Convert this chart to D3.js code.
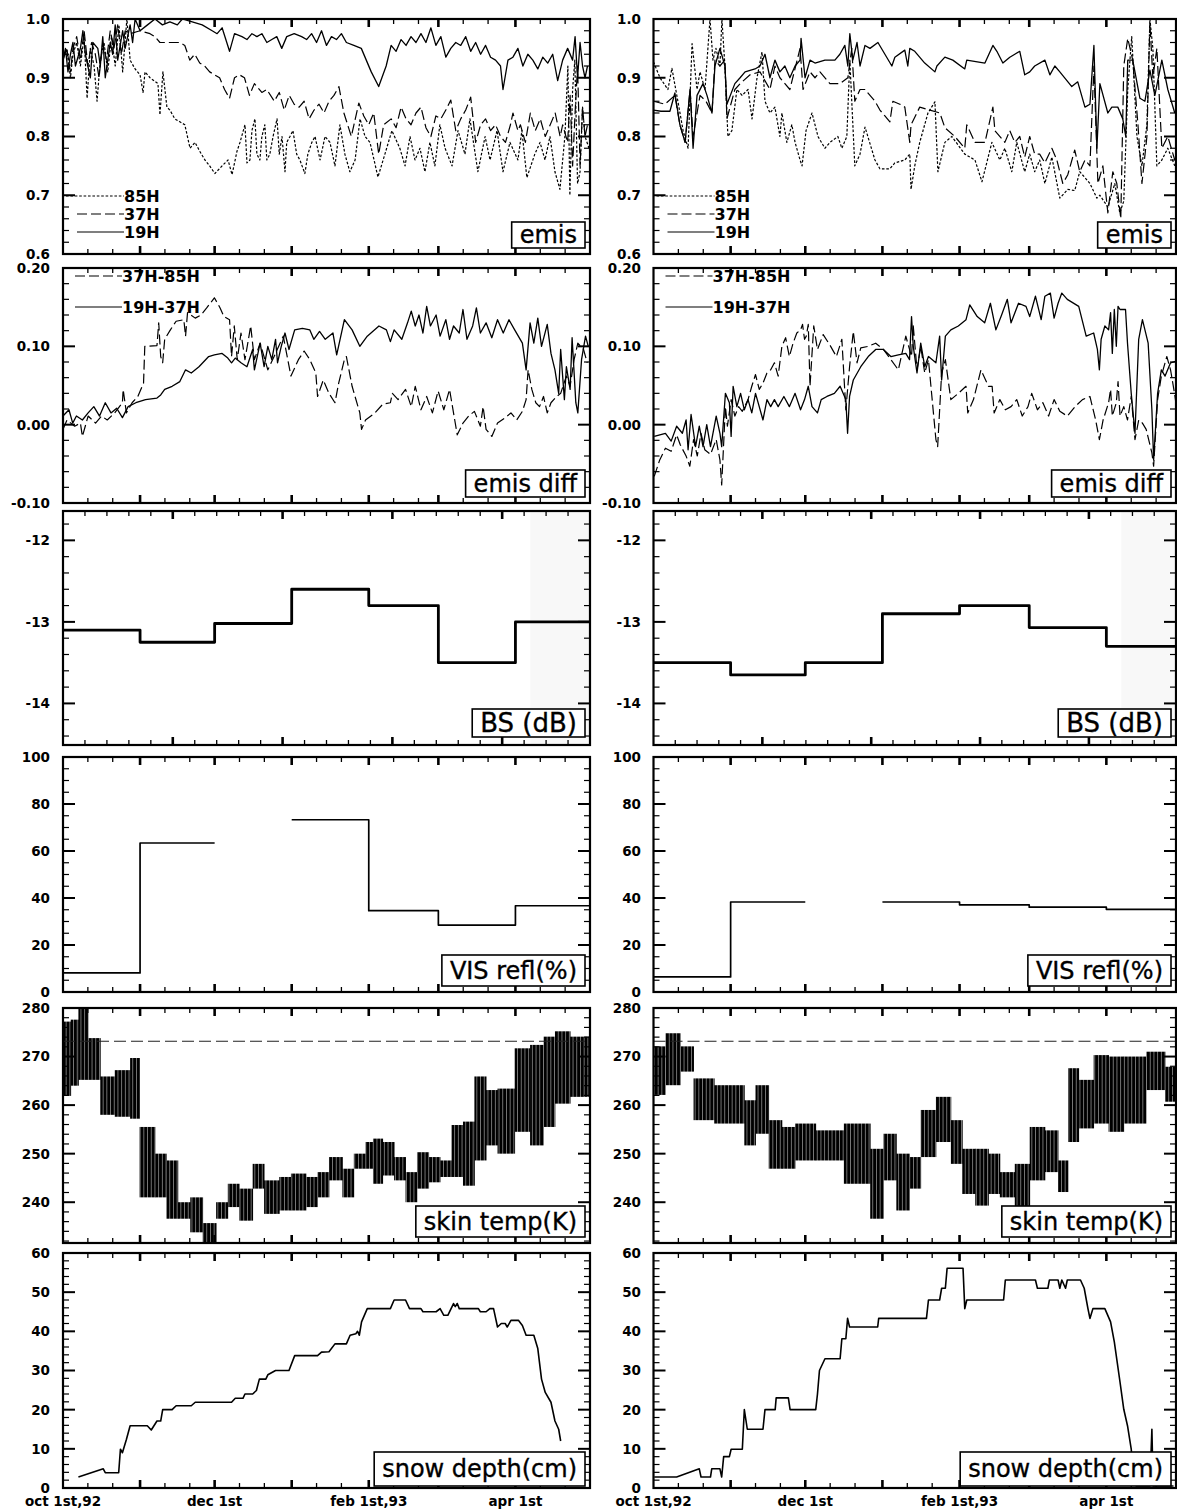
<!DOCTYPE html>
<html><head><meta charset="utf-8">
<script src="https://cdnjs.cloudflare.com/ajax/libs/d3/7.8.5/d3.min.js"></script>
<style>html,body{margin:0;padding:0;background:#fff}svg{display:block}</style>
</head><body>
<svg id="chart" width="1177" height="1510"></svg>
<script>
// ================= DATA (day offsets from Oct 1 1992) =================
const monthStarts = [0,31,61,92,123,151,182,212];
const xTickLabels = ["oct 1st,92","dec 1st","feb 1st,93","apr 1st"];
const xTickLabelDays = [0,61,123,182];

const emisTicks = [0.6,0.7,0.8,0.9,1.0];
const emisTickLabels = ["0.6","0.7","0.8","0.9","1.0"];
const diffTicks = [-0.1,0,0.1,0.2];
const diffTickLabels = ["-0.10","0.00","0.10","0.20"];
const bsTicks = [-14,-13,-12];
const bsTickLabels = ["-14","-13","-12"];
const visTicks = [0,20,40,60,80,100];
const visTickLabels = ["0","20","40","60","80","100"];
const skinTicks = [240,250,260,270,280];
const skinTickLabels = ["240","250","260","270","280"];
const snowTicks = [0,10,20,30,40,50,60];
const snowTickLabels = ["0","10","20","30","40","50","60"];

const emisLegend = ["85H","37H","19H"];
const diffLegend = ["37H-85H","19H-37H"];
const panelLabels = ["emis","emis diff","BS (dB)","VIS refl(%)","skin temp(K)","snow depth(cm)"];

// ---- emissivity, left site ----
const emisL19 = [[0,0.93],[1,0.95],[2,0.91],[3,0.94],[4,0.96],[5,0.92],[7,0.95],[8,0.98],[9,0.94],[11,0.90],[12,0.96],[14,0.95],[15,0.92],[16,0.97],[17,0.90],[19,0.96],[20,0.94],[21,0.99],[22,0.93],[24,0.98],[25,0.95],[27,0.99],[28,0.96],[29,1.0],[31,0.98],[34,0.99],[37,1.0],[40,0.99],[43,0.995],[46,0.99],[48,1.0],[52,0.995],[56,0.99],[60,0.98],[62,0.975],[64,0.985],[67,0.945],[69,0.975],[72,0.97],[74,0.965],[76,0.975],[78,0.97],[80,0.975],[82,0.96],[84,0.965],[86,0.97],[88,0.95],[90,0.97],[93,0.975],[96,0.97],[98,0.965],[100,0.975],[102,0.96],[104,0.98],[106,0.955],[108,0.97],[110,0.965],[112,0.975],[114,0.96],[117,0.955],[120,0.95],[124,0.91],[127,0.885],[130,0.92],[132,0.955],[134,0.945],[136,0.965],[138,0.955],[140,0.97],[142,0.96],[144,0.975],[146,0.96],[148,0.985],[150,0.955],[152,0.97],[154,0.935],[156,0.95],[158,0.96],[160,0.955],[162,0.97],[164,0.945],[166,0.96],[168,0.94],[170,0.955],[172,0.935],[174,0.93],[176,0.92],[177,0.88],[179,0.93],[181,0.935],[183,0.95],[185,0.92],[187,0.94],[189,0.93],[191,0.915],[193,0.935],[195,0.925],[197,0.94],[199,0.895],[201,0.93],[203,0.95],[205,0.93],[206,0.97],[207,0.90],[208,0.96],[209,0.92],[210,0.90],[211,0.92]];
const emisL37 = [[0,0.93],[1.5,0.95],[3,0.91],[4,0.95],[5.5,0.97],[7,0.93],[8.5,0.98],[10,0.92],[11.5,0.96],[13,0.94],[14.5,0.90],[16,0.96],[17.5,0.93],[19,0.98],[20.5,0.95],[22,0.99],[23.5,0.94],[25,0.98],[27,0.975],[31,0.98],[35,0.975],[37,0.97],[39,0.96],[47,0.96],[49,0.955],[51,0.93],[53,0.94],[55,0.925],[57,0.92],[59,0.91],[61,0.905],[63,0.90],[65,0.88],[67,0.865],[69,0.90],[71,0.905],[73,0.90],[75,0.87],[77,0.89],[80,0.875],[82,0.88],[85,0.86],[87,0.875],[89,0.845],[91,0.87],[93,0.855],[95,0.85],[97,0.86],[99,0.83],[101,0.845],[103,0.855],[105,0.84],[107,0.86],[109,0.87],[111,0.885],[113,0.84],[116,0.80],[119,0.857],[121,0.835],[123,0.82],[125,0.84],[127,0.77],[129,0.82],[132,0.83],[134,0.815],[136,0.85],[138,0.83],[140,0.82],[142,0.84],[144,0.85],[146,0.815],[148,0.80],[150,0.835],[152,0.83],[154,0.845],[156,0.862],[158,0.81],[160,0.83],[162,0.845],[164,0.867],[166,0.79],[168,0.82],[170,0.83],[172,0.81],[174,0.82],[176,0.80],[178,0.79],[180,0.82],[181,0.84],[183,0.81],[184,0.82],[186,0.79],[188,0.84],[190,0.81],[192,0.83],[194,0.80],[195,0.81],[197,0.83],[198,0.84],[200,0.80],[201,0.82],[203,0.79],[204,0.87],[205,0.75],[206,0.84],[207,0.92],[208,0.75],[209,0.85],[210,0.80],[211,0.82]];
const emisL85 = [[0,0.93],[1.5,0.95],[3,0.90],[4,0.94],[5.5,0.96],[7,0.92],[8.5,0.97],[9.7,0.865],[11,0.95],[12.5,0.92],[13.7,0.86],[15,0.93],[16.5,0.96],[18,0.91],[19.5,0.97],[21,0.92],[22.5,0.99],[24,0.91],[25.7,1.0],[27,0.93],[29,0.915],[31,0.905],[32.2,0.875],[33,0.91],[35,0.90],[38.2,0.89],[39,0.837],[40.2,0.91],[41.8,0.85],[43,0.845],[45,0.83],[47,0.825],[49,0.82],[51.1,0.78],[53.1,0.79],[55,0.775],[57.1,0.76],[59,0.75],[61.1,0.737],[64,0.75],[66.4,0.76],[68,0.735],[70,0.775],[71.2,0.79],[73.2,0.82],[74,0.755],[75.2,0.76],[76,0.81],[77.2,0.83],[78,0.77],[79.2,0.76],[80,0.80],[81.2,0.82],[82,0.76],[83.2,0.77],[84.5,0.80],[86.1,0.83],[87,0.77],[88.1,0.80],[89.3,0.74],[90,0.79],[91.3,0.80],[92.5,0.81],[94,0.77],[95.3,0.76],[97.3,0.737],[98.5,0.77],[100.1,0.79],[101.4,0.80],[103.4,0.76],[105.4,0.80],[107.4,0.79],[109.4,0.75],[111.4,0.82],[113.4,0.77],[115.4,0.74],[117.5,0.76],[119.5,0.83],[121.5,0.80],[123.5,0.79],[126.7,0.731],[129.5,0.77],[132.3,0.81],[135.5,0.78],[137.6,0.75],[139.6,0.80],[141.6,0.76],[143.6,0.78],[145.6,0.74],[147.6,0.79],[149.6,0.75],[151.6,0.82],[153.7,0.78],[156.5,0.75],[158.9,0.81],[161.7,0.77],[163.7,0.83],[166.9,0.74],[169.8,0.80],[171.8,0.76],[174.6,0.81],[177,0.74],[179.8,0.79],[183,0.76],[184.6,0.81],[186.6,0.73],[189.8,0.77],[191.9,0.79],[193.9,0.76],[195.9,0.80],[197.9,0.74],[199.9,0.71],[201.9,0.80],[203.1,0.92],[203.9,0.70],[205,0.88],[205.9,0.93],[207,0.72],[208,0.74],[209,0.85],[210,0.80],[211.6,0.78]];

// ---- emissivity, right site ----
const emisR19 = [[0,0.845],[3,0.843],[6.6,0.843],[8.6,0.874],[10.6,0.82],[12.7,0.79],[14.7,0.88],[15.9,0.78],[17.5,0.87],[19.9,0.89],[21.5,0.87],[23.5,0.84],[24.7,0.92],[26.7,0.95],[28.7,0.92],[29.5,0.855],[32.7,0.89],[34.8,0.90],[36.8,0.91],[40.8,0.915],[42.8,0.92],[44.8,0.94],[46.8,0.90],[48.8,0.93],[50.8,0.91],[52.8,0.92],[54.8,0.90],[56.9,0.92],[58.9,0.93],[59.3,0.967],[60.9,0.90],[62.9,0.93],[64.9,0.925],[68.9,0.93],[72.9,0.93],[74.9,0.94],[76.9,0.955],[78.1,0.92],[78.9,0.975],[80.1,0.93],[81.8,0.96],[83,0.92],[85,0.955],[87,0.95],[90.2,0.96],[93,0.94],[95.8,0.92],[97,0.935],[101,0.947],[102.2,0.92],[103,0.95],[105,0.945],[109,0.925],[113.1,0.91],[113.9,0.92],[117.1,0.935],[120.3,0.93],[125.1,0.915],[125.9,0.93],[133.2,0.925],[136.4,0.955],[138,0.945],[140.4,0.925],[143.2,0.935],[145.2,0.94],[147.2,0.945],[149.2,0.905],[151.2,0.91],[153.2,0.92],[157.3,0.93],[159.3,0.905],[161.3,0.92],[163.3,0.91],[168.1,0.885],[170.5,0.893],[173.4,0.85],[175.4,0.855],[177,0.955],[178.2,0.78],[179.4,0.89],[182.6,0.84],[184.2,0.85],[186.6,0.85],[188.6,0.83],[189.8,0.80],[190.6,0.93],[192.6,0.93],[195.5,0.865],[197.5,0.86],[199.5,0.913],[201.5,0.87],[204.3,0.93],[206.7,0.88],[209.5,0.84]];
const emisR37 = [[0,0.86],[4.6,0.855],[8.6,0.87],[10.6,0.82],[12.7,0.79],[14.7,0.88],[15.9,0.80],[18.7,0.87],[21.1,0.86],[23.5,0.84],[24.7,0.93],[26.7,0.92],[28.7,0.93],[29.5,0.83],[32.7,0.88],[34.8,0.89],[38.8,0.905],[42.8,0.91],[46.8,0.88],[48.8,0.92],[50.8,0.90],[54.8,0.88],[58.9,0.95],[60.1,0.88],[62.9,0.91],[64.9,0.90],[66.9,0.91],[70.9,0.89],[74.9,0.89],[78.1,0.90],[79.7,0.95],[80.9,0.86],[83,0.88],[85,0.88],[89,0.86],[91,0.845],[93,0.835],[95,0.825],[96.2,0.86],[99,0.855],[101,0.85],[103,0.79],[103.5,0.82],[107,0.85],[111.1,0.845],[115.1,0.84],[117.1,0.815],[121.1,0.80],[125.1,0.78],[125.9,0.82],[129.2,0.79],[133.2,0.79],[136.4,0.85],[137.2,0.81],[141.2,0.79],[143.2,0.81],[145.2,0.79],[147.2,0.80],[149.2,0.765],[151.2,0.80],[153.2,0.77],[155.2,0.77],[157.3,0.755],[160.1,0.78],[162.1,0.76],[164.5,0.72],[166.5,0.735],[169.3,0.777],[171.3,0.74],[173.4,0.76],[175.4,0.75],[177,0.92],[178.6,0.72],[180.6,0.75],[182.6,0.67],[184.6,0.74],[186.2,0.72],[187.8,0.66],[189,0.92],[190.6,0.967],[192.6,0.93],[194.7,0.82],[196.3,0.72],[198.3,0.80],[199.5,0.993],[200.7,0.90],[202.3,0.95],[204.3,0.78],[206.7,0.80],[209.5,0.76]];
const emisR85 = [[0,0.927],[2.6,0.90],[5.8,0.88],[7.4,0.916],[9.8,0.86],[11.9,0.81],[13.9,0.78],[15.5,0.958],[17.5,0.88],[18.7,0.91],[20.7,0.88],[22.7,1.0],[23.9,0.93],[25.1,0.95],[26.7,0.92],[27.5,1.0],[28.7,0.92],[29.9,0.80],[31.5,0.81],[33.5,0.88],[35.6,0.87],[38,0.88],[39.6,0.83],[41.6,0.90],[43.6,0.944],[44.8,0.86],[46.8,0.84],[48.8,0.85],[50.8,0.80],[51.6,0.84],[53.6,0.79],[55.6,0.82],[56.9,0.79],[58.9,0.76],[59.7,0.75],[61.3,0.81],[63.7,0.84],[66.1,0.80],[68.9,0.78],[70.9,0.79],[74.1,0.80],[75.7,0.78],[77.7,0.80],[78.9,0.93],[80.9,0.75],[83,0.77],[85,0.816],[89,0.76],[91,0.745],[95,0.745],[97,0.755],[101,0.76],[103,0.77],[103.5,0.71],[105,0.75],[107,0.79],[110.3,0.84],[113.1,0.859],[114.3,0.74],[117.1,0.79],[119.9,0.80],[125.1,0.77],[129.2,0.76],[132,0.723],[136,0.79],[139.2,0.76],[141.2,0.78],[144,0.74],[146,0.79],[149.2,0.74],[151.2,0.77],[153.2,0.74],[155.2,0.76],[157.3,0.72],[160.1,0.765],[163.3,0.695],[166.5,0.71],[169.3,0.708],[171.3,0.74],[173.4,0.73],[175.4,0.72],[178.2,0.695],[179.4,0.70],[182.6,0.68],[185.4,0.72],[187.4,0.67],[189,0.69],[190.6,0.88],[192.2,0.97],[194.3,0.80],[196.3,0.75],[198.3,0.82],[199.5,1.0],[200.7,0.95],[202.3,0.75],[204.3,0.76],[206.7,0.78],[209.5,0.75]];

// ---- emissivity differences ----
const diffL3785 = [[0,-0.006],[1.6,0.006],[4.7,-0.002],[7,0.002],[7.8,-0.015],[10.1,0.011],[13.1,0.002],[15.5,0.011],[17.8,0.006],[20.8,0.015],[23.9,0.028],[24.2,0.045],[25.5,0.015],[27.8,0.028],[30.1,0.036],[32.4,0.053],[32.9,0.100],[37.8,0.101],[38.5,0.130],[39.3,0.087],[40.1,0.079],[40.9,0.109],[43.2,0.121],[45.5,0.132],[48.6,0.134],[49.3,0.113],[50.1,0.143],[53.2,0.136],[55.5,0.140],[57.8,0.149],[60.9,0.162],[63.2,0.149],[64.7,0.138],[67,0.134],[67.8,0.087],[68.9,0.126],[70.1,0.083],[71.6,0.117],[73.2,0.083],[75.5,0.126],[77,0.083],[79.3,0.104],[82.4,0.070],[85.5,0.091],[88.6,0.113],[91.7,0.062],[94.7,0.083],[97,0.094],[99.3,0.083],[101.7,0.066],[102.4,0.036],[104.7,0.057],[107,0.040],[109.4,0.028],[110.9,0.053],[113.2,0.083],[114,0.087],[116.3,0.049],[119.4,0.015],[120.1,-0.006],[121.7,0.006],[125.5,0.015],[128.6,0.026],[131.7,0.028],[132.5,0.040],[134.8,0.032],[137.8,0.045],[140.1,0.023],[141.7,0.049],[144,0.019],[146.3,0.036],[148.6,0.015],[150.9,0.043],[153.2,0.019],[155.5,0.045],[157.1,0.015],[158.6,-0.013],[160.9,0.002],[163.2,0.011],[165.5,0.017],[167.9,-0.002],[169,0.023],[170.2,-0.006],[172.5,-0.015],[174.8,0.002],[177.9,0.009],[180.2,0.015],[182.5,0.006],[184.8,0.017],[186.3,0.032],[187.1,0.070],[188.6,0.045],[190.2,0.028],[191.7,0.023],[193.3,0.036],[194.8,0.015],[196.3,0.028],[198.6,0.036],[200.2,0.040],[202.5,0.062],[204,0.049],[205.6,0.083],[207.1,0.104],[209.4,0.096],[210.9,0.079]];
const diffL1937 = [[0,0.011],[2.4,0.019],[3.9,0.002],[5.4,0.011],[7.8,0.006],[10.1,0.015],[12.4,0.023],[14.7,0.011],[17,0.028],[19.3,0.015],[21.6,0.021],[23.9,0.009],[26.2,0.023],[29.3,0.028],[33.2,0.032],[37.8,0.034],[39.3,0.038],[40.9,0.045],[43.9,0.049],[47,0.055],[49.3,0.070],[51.6,0.066],[54.7,0.074],[58.6,0.087],[60.9,0.089],[64,0.091],[66.3,0.085],[67.8,0.079],[69.3,0.085],[71.6,0.079],[74,0.074],[76.3,0.096],[77,0.070],[79.3,0.104],[80.9,0.074],[82.4,0.100],[84,0.083],[85.5,0.109],[86.3,0.079],[87.8,0.100],[89.3,0.117],[90.9,0.096],[93.2,0.121],[96.3,0.123],[99.3,0.121],[100.9,0.109],[103.2,0.119],[105.5,0.109],[108.6,0.117],[110.1,0.089],[113.2,0.134],[116.3,0.121],[119.4,0.100],[122.4,0.113],[127.1,0.126],[130.1,0.121],[131.7,0.106],[133.2,0.121],[136.3,0.109],[138.6,0.130],[140.1,0.145],[141.7,0.126],[143.2,0.140],[144.8,0.117],[146.3,0.151],[147.8,0.126],[150.1,0.140],[151.7,0.113],[154,0.134],[155.5,0.109],[157.1,0.126],[159.4,0.117],[160.9,0.147],[162.5,0.109],[164.8,0.126],[166.3,0.149],[167.9,0.117],[170.2,0.130],[172.5,0.111],[174.8,0.134],[177.1,0.117],[179.4,0.134],[181.7,0.121],[184.8,0.104],[186.3,0.070],[187.9,0.130],[189.4,0.104],[191,0.136],[192.5,0.100],[194.8,0.128],[196.3,0.091],[197.9,0.070],[199.4,0.040],[200.2,0.096],[201.7,0.032],[202.5,0.074],[204,0.045],[204.8,0.111],[206.3,0.028],[207.1,0.015],[208.6,0.083],[210.2,0.113],[211.3,0.100]];
const diffR3785 = [[0.3,-0.066],[2.5,-0.045],[4.8,-0.030],[7.1,-0.034],[9.3,-0.013],[10.8,-0.026],[13.1,-0.040],[14.6,-0.053],[16.1,-0.019],[17.6,-0.040],[19.1,-0.011],[20.6,-0.032],[22.9,-0.038],[25.2,-0.019],[26.7,-0.045],[27.4,-0.077],[28.9,0.023],[29.7,-0.002],[31.2,0.032],[32.7,0.011],[34.2,0.023],[35.7,0.017],[38,0.032],[39.5,0.049],[41,0.064],[42.5,0.045],[44,0.053],[45.6,0.066],[47.1,0.070],[48.6,0.079],[50.1,0.062],[51.6,0.100],[53.1,0.111],[54.6,0.087],[56.1,0.104],[57.6,0.117],[59.1,0.121],[59.9,0.128],[60.7,0.109],[61.4,0.113],[62.2,0.128],[62.9,0.049],[64.4,0.126],[65.9,0.096],[68.2,0.115],[71.2,0.100],[73.5,0.087],[75.7,0.109],[77.3,0.019],[78.8,0.074],[80.3,0.119],[81.8,0.079],[83.3,0.098],[86.3,0.100],[89.3,0.104],[92.4,0.096],[95.4,0.083],[98.4,0.070],[101.4,0.113],[103.7,0.087],[104.4,0.126],[105.9,0.070],[107.4,0.100],[109,0.066],[110.5,0.083],[113.5,-0.019],[114.2,-0.028],[115.8,0.066],[117.3,0.083],[119.5,0.032],[122.5,0.040],[125.6,0.049],[126.3,0.015],[128.6,0.032],[131.6,0.070],[134.6,0.049],[136.1,0.049],[136.9,0.015],[139.2,0.032],[141.4,0.019],[143.7,0.023],[146,0.032],[148.2,0.011],[150.5,0.023],[152,0.040],[154.3,0.019],[156.5,0.028],[158.8,0.011],[161,0.032],[163.3,0.017],[166.3,0.011],[169.4,0.023],[172.4,0.032],[175.4,0.036],[177.7,0.006],[179.2,-0.019],[180.7,0.006],[182.9,0.028],[183.7,0.045],[184.4,0.011],[186,0.028],[186.7,0.055],[187.5,0.011],[189,0.023],[190.5,0.006],[192,0.036],[193.5,-0.019],[195,0.006],[196.5,0.002],[198,-0.006],[200.3,-0.036],[201,-0.053],[202.6,0.032],[204.1,0.062],[206.3,0.087],[207.8,0.070],[209.4,0.040],[210.9,0.006]];
const diffR1937 = [[0.3,-0.015],[4.8,-0.011],[7.1,-0.021],[9.3,-0.002],[11.6,-0.011],[13.1,0.006],[13.9,-0.032],[15.1,0.013],[16.9,-0.028],[18.4,-0.002],[19.9,-0.028],[21.4,0.000],[22.9,-0.028],[25.2,0.011],[26.7,-0.011],[27.4,-0.028],[28.9,0.040],[30.5,0.028],[31.2,-0.015],[32,0.049],[33.5,0.023],[35,0.040],[36.5,0.019],[38,0.032],[39.5,0.015],[41,0.040],[44,0.006],[45.6,0.032],[47.1,0.023],[48.6,0.032],[50.1,0.023],[52.4,0.036],[54.6,0.023],[56.9,0.040],[59.1,0.019],[60.7,0.032],[62.2,0.049],[63.7,0.023],[65.9,0.015],[67.4,0.032],[69.7,0.036],[72.7,0.040],[75,0.049],[77.3,0.032],[78,-0.011],[78.8,0.036],[80.3,0.057],[83.3,0.074],[86.3,0.087],[89.3,0.096],[92.4,0.096],[95.4,0.087],[98.4,0.089],[101.4,0.091],[102.9,0.083],[103.7,0.138],[104.4,0.100],[105.9,0.066],[107.4,0.104],[109,0.074],[110.5,0.087],[113.5,0.079],[115,0.113],[115.8,0.057],[117.3,0.113],[119.5,0.121],[122.5,0.126],[125.6,0.134],[127.1,0.153],[130.1,0.138],[133.1,0.130],[135.4,0.155],[137.6,0.121],[139.9,0.140],[142.2,0.160],[143.7,0.130],[146.7,0.155],[149.7,0.151],[151.2,0.138],[153.5,0.164],[155.8,0.134],[157.3,0.164],[159.5,0.168],[161,0.136],[162.6,0.155],[164.1,0.168],[166.3,0.160],[170.9,0.151],[173.9,0.113],[176.9,0.117],[178.4,0.096],[179.2,0.070],[179.9,0.109],[181.4,0.126],[182.9,0.121],[183.7,0.143],[184.4,0.091],[185.2,0.147],[186,0.100],[186.7,0.151],[187.5,0.147],[189.7,0.147],[190.5,0.104],[192,0.040],[193.5,-0.011],[195,0.109],[196.5,0.134],[198.8,0.104],[200.3,0.019],[201,-0.045],[202.6,0.040],[204.1,0.070],[205.6,0.062],[207.8,0.079],[210.1,0.081],[210.9,0.006]];

// ---- monthly backscatter (dB) and visible reflectance (%) : Oct..Apr ----
const bsLeft  = [-13.1,-13.25,-13.02,-12.6,-12.8,-13.5,-13.0];
const bsRight = [-13.5,-13.65,-13.5,-12.9,-12.8,-13.07,-13.3];
const visLeft  = [8.1,63.4,null,73.3,34.6,28.5,36.7];
const visRight = [6.4,38.3,null,38.3,37.1,36.1,35.2];
const bsShadeStart = 188;

// ---- skin temperature blocks: [dayStart, dayEnd, min K, max K] ----
const skinLeft = [[0,3.1,261.9,277.2],[3.1,6.2,264,277.6],[6.2,10.1,265.2,279.9],[10.1,15,265.2,273.8],[15,20.8,258,265.9],[20.8,27,257.6,267.2],[27,30.8,257.2,269.7],[30.8,37,241,255.5],[37,41.6,241,250],[41.6,46.2,236.6,248.6],[46.2,51.2,236.6,240],[51.2,56.2,233.8,241],[56.2,61.6,231.4,235.7],[61.6,66.3,236.6,240],[66.3,70.9,239,243.8],[70.9,76.3,236.2,242.8],[76.3,80.9,242.8,247.9],[80.9,87,237.6,244.5],[87,91.7,238.3,245.2],[91.7,97.8,238.3,245.9],[97.8,102.4,239,245.2],[102.4,107,241,246.2],[107,112.4,244.5,249.3],[112.4,117,241,246.9],[117,121.7,246.9,250],[121.7,124.7,246.9,252.4],[124.7,128.6,243.8,253.1],[128.6,133.2,245.5,252.4],[133.2,137.8,244.5,249.3],[137.8,142.4,240,246.2],[142.4,147.1,242.8,250.3],[147.1,151.7,244.1,249.3],[151.7,156.3,245.2,248.6],[156.3,160.9,245.2,255.9],[160.9,165.5,243.4,256.6],[165.5,170.2,248.6,265.9],[170.2,174.8,251.7,263.1],[174.8,181.7,250,263.4],[181.7,187.9,254.5,271.7],[187.9,193.3,251.7,272.4],[193.3,197.9,255.5,274.1],[197.9,204,260.3,275.2],[204,212,261.7,274.1]];
const skinRight = [[0,4.8,262.1,272.1],[4.8,10.8,264.1,274.8],[10.8,16.1,266.9,272.1],[16.1,24.4,256.9,265.5],[24.4,36.5,256.2,264.1],[36.5,41,251.7,261],[41,46.3,254.1,264.1],[46.3,51.6,246.9,256.9],[51.6,56.9,246.9,255.5],[56.9,65.2,248.6,256.2],[65.2,76.5,248.6,254.8],[76.5,87.1,243.8,256.2],[87.1,92.4,236.6,251],[92.4,97.6,244.5,254.1],[97.6,102.9,238.3,250],[102.9,107.4,242.8,249.3],[107.4,113.5,249.3,259],[113.5,119.5,252.4,261.7],[119.5,124.1,247.9,256.9],[124.1,129.3,241.7,251],[129.3,134.6,239.3,251],[134.6,139.2,241.7,250],[139.2,145.2,241,246.2],[145.2,151.2,239,247.9],[151.2,157.3,244.5,255.5],[157.3,162.6,246.2,254.8],[162.6,166.6,242.1,248.6],[166.6,170.9,252.4,267.6],[170.9,176.9,255.2,265.2],[176.9,182.9,256.2,270.3],[182.9,189,254.5,270],[189,198,256.2,270],[198,205.6,263.1,271],[205.6,212,260.7,267.9]];
const freezingK = 273.15;

// ---- snow depth (cm) ----
const snowLeft = [[6.2,2.8],[16.2,4.9],[17,3.9],[22.4,3.9],[23.1,9.9],[23.9,9.0],[25.5,12.4],[27,15.9],[33.9,15.9],[35.5,14.8],[37.8,17.1],[39.3,17.1],[40.1,20],[43.9,20],[45.5,21],[51.6,21],[53.2,21.9],[67.8,21.9],[69.3,22.9],[72.4,22.9],[73.2,24],[76.3,24],[77.8,24.9],[79,27.8],[81.6,27.8],[82.4,28.9],[85.5,30],[90.9,30],[93.2,33.8],[102.4,33.8],[104,34.7],[107,34.8],[109.4,36.8],[114,36.8],[115.5,39],[117.8,39.4],[118.5,40],[119.2,39],[120.1,42.4],[122.4,45.8],[131.7,45.8],[133.2,48],[137.8,48],[139.4,45.8],[144,45.8],[144.8,45],[150.1,45],[151.7,45.8],[153.2,44.1],[154.8,44.1],[157.1,47.1],[157.8,46.3],[158.6,47.1],[159.4,45.8],[167.1,45.8],[167.9,45],[170.2,45],[171.7,45.8],[173.2,45.8],[174.8,41.1],[176.3,42],[177.9,42],[178.7,41.1],[180.2,42.8],[183.2,42.8],[184.8,41.5],[186.3,39],[189.4,39],[191,35.6],[192.5,27.8],[194,24.4],[196.3,21.9],[197.9,17.1],[199.4,15],[200.2,12]];
const snowRight = [[0.3,2.8],[9.3,2.8],[18.4,4.9],[19.1,2.8],[22.9,2.8],[23.4,4.9],[26.7,4.9],[27.4,2.8],[28.2,8],[30.5,8],[31.2,9.9],[35.7,9.9],[36.5,20],[37.7,15],[44,15],[44.8,20],[48.9,20],[49.3,23],[54.2,23],[54.9,20],[65.2,20],[65.9,24],[66.7,30],[68.9,33],[75,33],[75.7,38.1],[77.3,38.1],[78,43.3],[78.8,41.1],[90.1,41.1],[90.5,43.3],[109.7,43.3],[110.5,48],[115,48],[115.8,51],[117.3,51],[118,56.1],[124.4,56.1],[125.1,45.8],[125.9,48],[140.7,48],[141.4,53.1],[153.5,53.1],[154.3,51],[158.5,51],[159.1,53.1],[162.6,53.1],[163.3,51],[164.1,53.1],[165.6,51],[166.3,53.1],[171.6,53.1],[173.1,51],[174.6,45.8],[175.4,43.3],[176.6,45.8],[181.4,45.8],[183.7,42.4],[185.2,37.3],[187.5,27],[189,20.1],[190.5,15.9],[192,9.9],[193,3],[194,0.5],[199.5,0.5],[200.3,15],[200.8,0.5],[209,0.5]];

// ================= LAYOUT =================
const svg = d3.select("#chart").style("font-family","'DejaVu Sans', sans-serif");
const defs = svg.append("defs");
const pat = defs.append("pattern").attr("id","hatch").attr("patternUnits","userSpaceOnUse").attr("width",3.7).attr("height",20);
pat.append("rect").attr("width",3.7).attr("height",20).attr("fill","#000");
pat.append("rect").attr("x",3.2).attr("width",0.45).attr("height",20).attr("fill","#fff");

const T0 = Date.UTC(1992,9,1);
const toDate = d => new Date(T0 + d*864e5);
const cols = [
  {x0:63, x1:590, xr:590, lab:50},
  {x0:653.5, x1:1181, xr:1176, lab:641}
];
const rows = [
  {y0:19,   y1:254,  dom:[0.6,1.0],       minor:0.02, ticks:emisTicks, labels:emisTickLabels, boxH:26, boxGap:6, fs:24},
  {y0:268,  y1:503,  dom:[-0.1,0.2],      minor:0.02, ticks:diffTicks, labels:diffTickLabels, boxH:27, boxGap:6, fs:24},
  {y0:511,  y1:745,  dom:[-14.51,-11.64], minor:0.2,  ticks:bsTicks,   labels:bsTickLabels,   boxH:28, boxGap:8, fs:26, uniformX:true},
  {y0:757,  y1:992,  dom:[0,100],         minor:5,    ticks:visTicks,  labels:visTickLabels,  boxH:31, boxGap:6, fs:24},
  {y0:1008, y1:1243, dom:[231.6,280],     minor:2,    ticks:skinTicks, labels:skinTickLabels, boxH:31, boxGap:6, fs:24},
  {y0:1253, y1:1488, dom:[0,60],          minor:2,    ticks:snowTicks, labels:snowTickLabels, boxH:34, boxGap:2, fs:24}
];

function stepPoints(vals) {
  const pts = [];
  vals.forEach((v,i) => {
    if (v == null) { pts.push([monthStarts[i], NaN]); return; }
    pts.push([monthStarts[i], v], [monthStarts[i+1], v]);
  });
  return pts;
}

function panel(ci, ri, draw) {
  const c = cols[ci], r = rows[ri];
  const x = d3.scaleUtc().domain([toDate(0), toDate(212)]).range([c.x0, c.x1]);
  const y = d3.scaleLinear().domain(r.dom).range([r.y1, r.y0]);
  const g = svg.append("g");
  const id = "clip" + ci + "_" + ri;
  defs.append("clipPath").attr("id", id).append("rect")
    .attr("x", c.x0).attr("y", r.y0).attr("width", c.xr - c.x0).attr("height", r.y1 - r.y0);
  const plot = g.append("g").attr("clip-path", "url(#" + id + ")");
  const line = d3.line().defined(d => !isNaN(d[1])).x(d => x(toDate(d[0]))).y(d => y(d[1]));
  draw(plot, x, y, line, c, r);

  const tk = g.append("g").attr("stroke","#000").attr("fill","none");
  const lo = r.dom[0], hi = r.dom[1];
  const n0 = Math.ceil(lo / r.minor - 1e-6), n1 = Math.floor(hi / r.minor + 1e-6);
  for (let k = n0; k <= n1; k++) {
    const v = k * r.minor;
    const yy = y(v);
    if (yy < r.y0 + 1 || yy > r.y1 - 1) continue;
    const major = r.ticks.some(t => Math.abs(t - v) < r.minor/10);
    const L = major ? 12 : 6, w = major ? 2 : 1.2;
    tk.append("line").attr("x1", c.x0).attr("x2", c.x0 + L).attr("y1", yy).attr("y2", yy).attr("stroke-width", w);
    tk.append("line").attr("x1", c.xr).attr("x2", c.xr - L).attr("y1", yy).attr("y2", yy).attr("stroke-width", w);
  }
  let xt = [];
  if (r.uniformX) {
    for (let i = 1; i < 24; i++) xt.push({x: c.x0 + i*(c.xr - c.x0)/24, major: i % 5 === 0});
  } else {
    d3.utcMonth.range(toDate(1), toDate(212)).forEach(d => xt.push({x: x(d), major: true}));
    d3.utcDay.range(toDate(0), toDate(212)).filter(d => d.getUTCDate() === 11 || d.getUTCDate() === 21)
      .forEach(d => xt.push({x: x(d), major: false}));
  }
  xt.filter(t => t.x < c.xr - 2 && t.x > c.x0 + 2).forEach(t => {
    const L = t.major ? 8 : 5, w = t.major ? 2.6 : 1.3;
    tk.append("line").attr("x1", t.x).attr("x2", t.x).attr("y1", r.y0).attr("y2", r.y0 + L).attr("stroke-width", w);
    tk.append("line").attr("x1", t.x).attr("x2", t.x).attr("y1", r.y1).attr("y2", r.y1 - L).attr("stroke-width", w);
  });
  g.append("rect").attr("x", c.x0).attr("y", r.y0).attr("width", c.xr - c.x0).attr("height", r.y1 - r.y0)
    .attr("fill","none").attr("stroke","#000").attr("stroke-width", 2.2);
  r.ticks.forEach((t, i) => {
    g.append("text").attr("x", c.lab).attr("y", y(t)).attr("dy","0.36em").attr("text-anchor","end")
      .attr("font-size", 13.5).attr("font-weight","bold").text(r.labels[i]);
  });
  const lb = g.append("g");
  const txt = lb.append("text").attr("font-size", r.fs).attr("text-anchor","end")
    .attr("stroke","#000").attr("stroke-width",0.35).text(panelLabels[ri]);
  const tw = txt.node().getComputedTextLength();
  const bx1 = c.xr - 5, by1 = r.y1 - r.boxGap, bw = tw + 16, bh = r.boxH;
  lb.insert("rect","text").attr("x", bx1 - bw).attr("y", by1 - bh).attr("width", bw).attr("height", bh)
    .attr("fill","#fff").attr("stroke","#000").attr("stroke-width",1.6);
  txt.attr("x", bx1 - 8).attr("y", by1 - bh/2 + r.fs*0.34);
  return {g, x, y};
}

function addLine(plot, line, data, dash, w) {
  plot.append("path").datum(data).attr("d", line).attr("fill","none").attr("stroke","#000")
    .attr("stroke-width", w || 1.2).attr("stroke-dasharray", dash || null).attr("stroke-linejoin","round");
}

const DOT = "2.6,1.8", DASH = "10,4";
const emisSets = [[emisL85, emisL37, emisL19],[emisR85, emisR37, emisR19]];
const diffSets = [[diffL3785, diffL1937],[diffR3785, diffR1937]];
const bsSets = [bsLeft, bsRight], visSets = [visLeft, visRight];
const skinSets = [skinLeft, skinRight], snowSets = [snowLeft, snowRight];

[0,1].forEach(ci => {
  const p1 = panel(ci, 0, (plot, x, y, line) => {
    const s = emisSets[ci];
    addLine(plot, line, s[0], DOT, 1.2);
    addLine(plot, line, s[1], DASH, 1.2);
    addLine(plot, line, s[2], null, 1.3);
  });
  const c = cols[ci];
  const legY = [196, 214, 232], legX0 = [c.x0 + 3, c.x0 + 14, c.x0 + 14], legDash = [DOT, DASH, null];
  emisLegend.forEach((lab, i) => {
    p1.g.append("line").attr("x1", legX0[i]).attr("x2", c.x0 + 61).attr("y1", legY[i]).attr("y2", legY[i])
      .attr("stroke","#000").attr("stroke-width",1.2).attr("stroke-dasharray", legDash[i]);
    p1.g.append("text").attr("x", c.x0 + 61).attr("y", legY[i]).attr("dy","0.36em")
      .attr("font-size",16).attr("font-weight","bold").text(lab);
  });

  const p2 = panel(ci, 1, (plot, x, y, line) => {
    addLine(plot, line, diffSets[ci][0], DASH, 1.2);
    addLine(plot, line, diffSets[ci][1], null, 1.3);
  });
  const dY = [276, 307], dDash = [DASH, null];
  diffLegend.forEach((lab, i) => {
    p2.g.append("line").attr("x1", c.x0 + 12).attr("x2", c.x0 + 59).attr("y1", dY[i]).attr("y2", dY[i])
      .attr("stroke","#000").attr("stroke-width",1.2).attr("stroke-dasharray", dDash[i]);
    p2.g.append("text").attr("x", c.x0 + 59).attr("y", dY[i]).attr("dy","0.36em")
      .attr("font-size",16).attr("font-weight","bold").text(lab);
  });

  panel(ci, 2, (plot, x, y, line, cc, r) => {
    plot.append("rect").attr("x", x(toDate(bsShadeStart))).attr("y", r.y0)
      .attr("width", cc.xr - x(toDate(bsShadeStart))).attr("height", r.y1 - r.y0).attr("fill","#f8f8f8");
    addLine(plot, line, stepPoints(bsSets[ci]), null, 2.8);
  });

  panel(ci, 3, (plot, x, y, line) => {
    addLine(plot, line, stepPoints(visSets[ci]), null, 1.7);
  });

  panel(ci, 4, (plot, x, y) => {
    plot.selectAll("rect.blk").data(skinSets[ci]).join("rect").attr("class","blk")
      .attr("x", d => x(toDate(d[0])))
      .attr("width", d => x(toDate(d[1])) - x(toDate(d[0])) + 0.4)
      .attr("y", d => y(d[3]))
      .attr("height", d => y(d[2]) - y(d[3]))
      .attr("fill","url(#hatch)");
    plot.append("line").attr("x1", x(toDate(0))).attr("x2", x(toDate(212)))
      .attr("y1", y(freezingK)).attr("y2", y(freezingK))
      .attr("stroke","#222").attr("stroke-width",1.2).attr("stroke-dasharray","12,5");
  });

  const p6 = panel(ci, 5, (plot, x, y, line) => {
    addLine(plot, line, snowSets[ci], null, 1.6);
  });
  xTickLabelDays.forEach((d, i) => {
    svg.append("text").attr("x", p6.x(toDate(d))).attr("y", 1506).attr("text-anchor","middle")
      .attr("font-size",13.5).attr("font-weight","bold").text(xTickLabels[i]);
  });
});
</script>
</body></html>
